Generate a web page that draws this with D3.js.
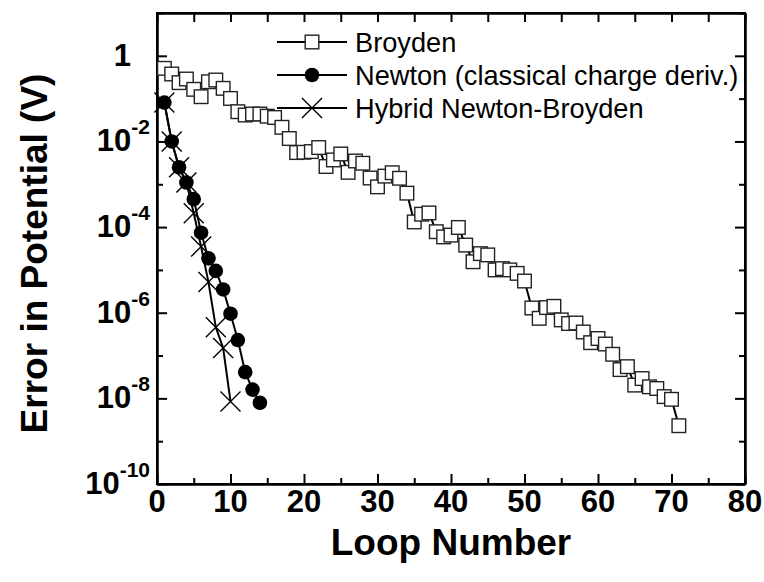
<!DOCTYPE html>
<html>
<head>
<meta charset="utf-8">
<script src="https://cdn.jsdelivr.net/npm/d3@7"></script>
<style>
  body { margin: 0; background: #fff; }
  svg { font-family: "Liberation Sans", Arial, sans-serif; }
  .axis path { stroke: #000; stroke-width: 2px; }
  .axis line { stroke: #000; stroke-width: 2px; }
</style>
</head>
<body>
<script>
//convergence plot: error in potential vs loop number

//data
var broydenLoop = [1,2,3,4,5,6,7,8,9,10,11,12,13,14,15,16,17,18,19,20,21,22,23,24,25,26,27,28,29,30,
    31,32,33,34,35,36,37,38,39,40,41,42,43,44,45,46,47,48,49,50,51,52,53,54,55,56,57,58,59,60,
    61,62,63,64,65,66,67,68,69,70,71];
var broydenErr = [0.51,0.376,0.236,0.287,0.165,0.111,0.248,0.272,0.174,0.101,
    0.0495,0.0414,0.0437,0.0437,0.0389,0.0363,0.0214,0.0117,0.0055,0.0056,
    0.0058,0.0072,0.0026,0.0037,0.0051,0.0019,0.0035,0.0031,0.0014,8.7e-4,
    1.55e-3,1.86e-3,1.38e-3,6.2e-4,1.32e-4,2.0e-4,2.14e-4,7.8e-5,5.9e-5,6.5e-5,
    9.8e-5,3.8e-5,1.55e-5,2.4e-5,2.24e-5,1.0e-5,1.07e-5,1.0e-5,8.3e-6,5.5e-6,
    1.29e-6,7.4e-7,1.32e-6,1.41e-6,6.8e-7,5.6e-7,5.75e-7,3.55e-7,2.0e-7,2.5e-7,
    1.86e-7,1.07e-7,4.7e-8,5.5e-8,2.04e-8,2.9e-8,1.86e-8,1.7e-8,1.1e-8,9.5e-9,2.3e-9];

var newtonLoop = [1,2,3,4,5,6,7,8,9,10,11,12,13,14];
var newtonErr = [0.081,0.01,2.5e-3,1.1e-3,4.5e-4,7.4e-5,1.86e-5,9.5e-6,3.5e-6,9.5e-7,2.3e-7,4.1e-8,1.6e-8,7.9e-9];

var hybridLoop = [1,2,3,4,5,6,7,8,9,10];
var hybridErr = [0.081,0.01,2.5e-3,1.1e-3,2.1e-4,3.5e-5,5.2e-6,4.6e-7,1.5e-7,8.5e-9];

var seriesNames = ["Broyden", "Newton (classical charge deriv.)", "Hybrid Newton-Broyden"];

var xMajor = [0,10,20,30,40,50,60,70,80];
var xMinor = [5,15,25,35,45,55,65,75];
var yMajorExp = [0,-2,-4,-6,-8,-10];
var yMinorExp = [1,-1,-3,-5,-7,-9];

(function(){

var width = 764, height = 582;
var mLeft = 157, mRight = 745, mTop = 13, mBottom = 484;

var svg = d3.select("body").append("svg")
    .attr("width", width)
    .attr("height", height);

var x = d3.scaleLinear().domain([0, 80]).range([mLeft, mRight]);
var y = d3.scaleLog().domain([1e-10, 10]).range([mBottom, mTop]);

//ticks, all pointing inward
function addAxis(axis, tx, ty){
    var g = svg.append("g")
        .attr("class", "axis")
        .attr("transform", "translate(" + tx + "," + ty + ")")
        .call(axis);
    g.selectAll("text").remove();
    return g;
}

var yMajorVals = yMajorExp.map(function(e){ return Math.pow(10, e); });
var yMinorVals = yMinorExp.map(function(e){ return Math.pow(10, e); });

addAxis(d3.axisBottom(x).tickValues(xMajor).tickSize(-10).tickSizeOuter(0), 0, mBottom);
addAxis(d3.axisBottom(x).tickValues(xMinor).tickSize(-6).tickSizeOuter(0), 0, mBottom);
addAxis(d3.axisTop(x).tickValues(xMajor).tickSize(-9).tickSizeOuter(0), 0, mTop);
addAxis(d3.axisTop(x).tickValues(xMinor).tickSize(-9).tickSizeOuter(0), 0, mTop);
addAxis(d3.axisLeft(y).tickValues(yMajorVals).tickSize(-10).tickSizeOuter(0), mLeft, 0);
addAxis(d3.axisLeft(y).tickValues(yMinorVals).tickSize(-6).tickSizeOuter(0), mLeft, 0);
addAxis(d3.axisRight(y).tickValues(yMajorVals).tickSize(-10).tickSizeOuter(0), mRight, 0);
addAxis(d3.axisRight(y).tickValues(yMinorVals).tickSize(-6).tickSizeOuter(0), mRight, 0);

//frame
svg.append("rect")
    .attr("x", mLeft).attr("y", mTop)
    .attr("width", mRight - mLeft).attr("height", mBottom - mTop)
    .attr("fill", "none").attr("stroke", "#000").attr("stroke-width", 2);

//x tick labels
svg.selectAll(".xlab")
    .data(xMajor)
    .enter()
    .append("text")
    .attr("class", "xlab")
    .attr("x", function(d){ return x(d); })
    .attr("y", mBottom + 28)
    .attr("text-anchor", "middle")
    .attr("font-size", 31)
    .attr("font-weight", "bold")
    .text(function(d){ return d; });

//y tick labels with superscript exponent
var ylab = svg.selectAll(".ylab")
    .data(yMajorExp)
    .enter()
    .append("text")
    .attr("class", "ylab")
    .attr("x", function(d){ return d === 0 ? 131 : 150; })
    .attr("y", function(d){ return y(Math.pow(10, d)) + 10; })
    .attr("text-anchor", "end")
    .attr("font-size", 31)
    .attr("font-weight", "bold");
ylab.append("tspan")
    .text(function(d){ return d === 0 ? "1" : "10"; });
ylab.filter(function(d){ return d !== 0; })
    .append("tspan")
    .attr("dy", -17)
    .attr("font-size", 21)
    .text(function(d){ return d; });

//axis titles
svg.append("text")
    .attr("x", (mLeft + mRight) / 2)
    .attr("y", 555)
    .attr("text-anchor", "middle")
    .attr("font-size", 37)
    .attr("font-weight", "bold")
    .text("Loop Number");

svg.append("text")
    .attr("transform", "translate(47," + ((mTop + mBottom) / 2 + 5) + ") rotate(-90)")
    .attr("text-anchor", "middle")
    .attr("font-size", 37)
    .attr("font-weight", "bold")
    .text("Error in Potential (V)");

//line generator
var line = d3.line()
    .x(function(d){ return x(d[0]); })
    .y(function(d){ return y(d[1]); });

var broyden = d3.zip(broydenLoop, broydenErr),
    newton = d3.zip(newtonLoop, newtonErr),
    hybrid = d3.zip(hybridLoop, hybridErr);

//markers
function drawSquare(g, cx, cy){
    g.append("rect")
        .attr("x", cx - 6.8).attr("y", cy - 6.8)
        .attr("width", 13.6).attr("height", 13.6)
        .attr("fill", "#fff").attr("stroke", "#222").attr("stroke-width", 1.4);
}
function drawCircle(g, cx, cy){
    g.append("circle")
        .attr("cx", cx).attr("cy", cy).attr("r", 7.3)
        .attr("fill", "#000");
}
function drawCross(g, cx, cy){
    var s = 10;
    g.append("path")
        .attr("d", "M" + (cx - s) + "," + (cy - s) + "L" + (cx + s) + "," + (cy + s) +
            "M" + (cx - s) + "," + (cy + s) + "L" + (cx + s) + "," + (cy - s))
        .attr("stroke", "#000").attr("stroke-width", 1.4).attr("fill", "none");
}

var plot = svg.append("g");

plot.append("path").datum(broyden)
    .attr("d", line).attr("fill", "none").attr("stroke", "#000").attr("stroke-width", 2);
var bg = plot.append("g");
broyden.forEach(function(d){ drawSquare(bg, x(d[0]), y(d[1])); });

plot.append("path").datum(newton)
    .attr("d", line).attr("fill", "none").attr("stroke", "#000").attr("stroke-width", 2);
var ng = plot.append("g");
newton.forEach(function(d){ drawCircle(ng, x(d[0]), y(d[1])); });

plot.append("path").datum(hybrid)
    .attr("d", line).attr("fill", "none").attr("stroke", "#000").attr("stroke-width", 2);
var hg = plot.append("g");
hybrid.forEach(function(d){ drawCross(hg, x(d[0]), y(d[1])); });

//legend
var legY = [42, 75, 108];
var markers = [drawSquare, drawCircle, drawCross];
var legend = svg.append("g");
seriesNames.forEach(function(name, i){
    legend.append("line")
        .attr("x1", 277).attr("x2", 347)
        .attr("y1", legY[i]).attr("y2", legY[i])
        .attr("stroke", "#000").attr("stroke-width", 2);
    markers[i](legend, 312, legY[i]);
    legend.append("text")
        .attr("x", 355)
        .attr("y", legY[i] + 9.5)
        .attr("font-size", 27.2)
        .text(name);
});

})();
</script>
</body>
</html>
